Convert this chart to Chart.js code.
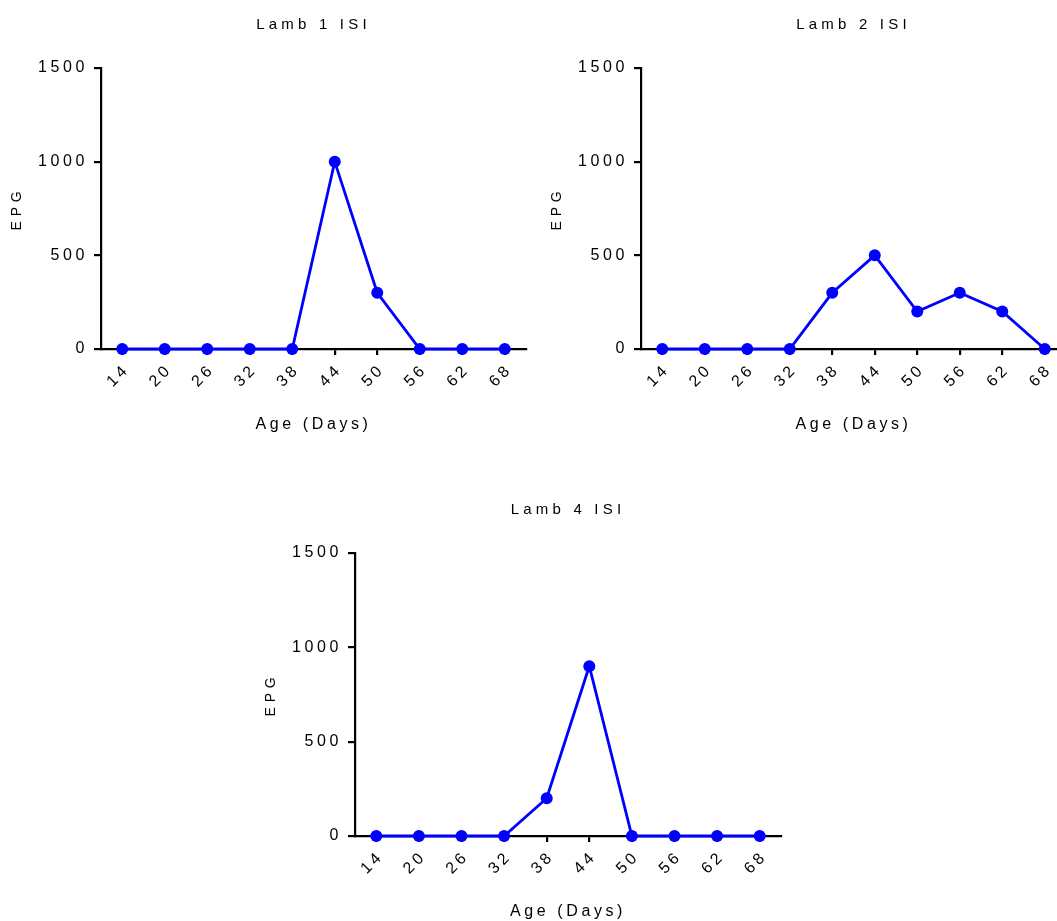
<!DOCTYPE html>
<html>
<head>
<meta charset="utf-8">
<script src="https://cdn.jsdelivr.net/npm/chart.js@4"></script>
<style>
  html, body { margin: 0; padding: 0; background: #fff; overflow: hidden; }
  body { width: 1057px; height: 921px; position: relative; }
  canvas { position: absolute; }
</style>
</head>
<body>
<canvas id="lamb1" data-lamb1 width="532" height="450" style="left:0px;top:0px"></canvas>
<canvas id="lamb2" data-lamb2 width="532" height="450" style="left:540px;top:0px"></canvas>
<canvas id="lamb4" data-lamb4 width="533" height="452" style="left:254px;top:485px"></canvas>
<script>
const idades = ['14', '20', '26', '32', '38', '44', '50', '56', '62', '68'];
const valoresY = [0, 500, 1000, 1500];

const lamb1 = [0, 0, 0, 0, 0, 1000, 300, 0, 0, 0];
const lamb2 = [0, 0, 0, 0, 300, 500, 200, 300, 200, 0];
const lamb4 = [0, 0, 0, 0, 200, 900, 0, 0, 0, 0];

const fonte = '"Liberation Sans", Arial, Helvetica, sans-serif';

// espaçamento entre letras: textos menores mais abertos que os numeros
const espacamento = {
  id: 'espacamento',
  beforeInit(chart) {
    const ctx = chart.ctx;
    const original = ctx.fillText;
    ctx.fillText = function (texto, x, y, largura) {
      const tamanho = parseFloat(/(\d+(\.\d+)?)px/.exec(this.font)[1]);
      this.letterSpacing = tamanho < 15 ? '4.8px' : (tamanho < 16 ? '4.2px' : '3.6px');
      return largura === undefined ? original.call(this, texto, x, y) : original.call(this, texto, x, y, largura);
    };
  }
};

function criaGrafico(canvas, titulo, dados) {
  return new Chart(canvas, {
    type: 'line',
    data: {
      labels: idades,
      datasets: [{
        label: titulo,
        data: dados,
        borderColor: '#0000ff',
        backgroundColor: '#0000ff',
        pointBackgroundColor: '#0000ff',
        pointBorderWidth: 0,
        pointRadius: 6,
        borderWidth: 2.8,
        tension: 0,
        clip: false
      }]
    },
    options: {
      responsive: false,
      animation: false,
      devicePixelRatio: 1,
      layout: { padding: { left: 0, right: 6, top: 0, bottom: 0 } },
      plugins: {
        legend: { display: false },
        tooltip: { enabled: false },
        title: {
          display: true,
          text: titulo,
          fullSize: false,
          color: '#000',
          font: { family: fonte, size: 15, weight: 'normal' },
          padding: { top: 16, bottom: 34 }
        }
      },
      scales: {
        x: {
          type: 'category',
          offset: true,
          afterFit(escala) { escala.height = 101; },
          grid: { display: true, drawOnChartArea: false, drawTicks: true, tickLength: 6, color: '#000', lineWidth: 2.2 },
          border: { display: true, color: '#000', width: 2.2 },
          ticks: {
            color: '#000',
            font: { family: fonte, size: 16 },
            minRotation: 45,
            maxRotation: 45,
            autoSkip: false,
            padding: 5,
            labelOffset: 5
          },
          title: {
            display: true,
            text: 'Age (Days)',
            color: '#000',
            font: { family: fonte, size: 16 },
            padding: { top: 0, bottom: 16 }
          }
        },
        y: {
          min: 0,
          max: 1500,
          afterFit(escala) { escala.width = 101; },
          afterBuildTicks(escala) { escala.ticks = valoresY.map(v => ({ value: v })); },
          grid: { display: true, drawOnChartArea: false, drawTicks: true, tickLength: 7, color: '#000', lineWidth: 2.2 },
          border: { display: true, color: '#000', width: 2.2 },
          ticks: {
            color: '#000',
            font: { family: fonte, size: 16 },
            padding: 6,
            callback: valor => String(valor)
          },
          title: {
            display: true,
            text: 'EPG',
            color: '#000',
            font: { family: fonte, size: 14 },
            padding: { top: 9, bottom: 0 }
          }
        }
      }
    },
    plugins: [espacamento]
  });
}

const grafico1 = criaGrafico(document.querySelector('[data-lamb1]'), 'Lamb 1 ISI', lamb1);
const grafico2 = criaGrafico(document.querySelector('[data-lamb2]'), 'Lamb 2 ISI', lamb2);
const grafico4 = criaGrafico(document.querySelector('[data-lamb4]'), 'Lamb 4 ISI', lamb4);
</script>
</body>
</html>
